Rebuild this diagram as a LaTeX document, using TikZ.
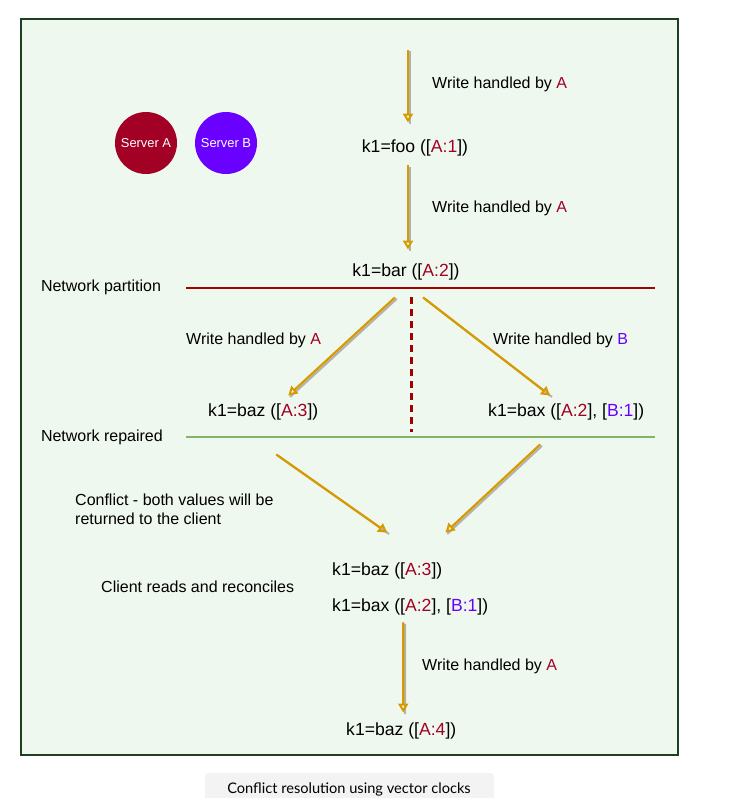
\documentclass[tikz,border=0pt]{standalone}
\usepackage{xcolor}
\usepackage{fontspec}
\setmainfont{Liberation Sans}
\newfontfamily\capfont{Lato}
\usepackage{tikz}
\usetikzlibrary{arrows.meta}

\definecolor{srvA}{HTML}{A20025}
\definecolor{srvB}{HTML}{6A00FF}
\definecolor{flowc}{HTML}{D79B00}
\definecolor{partc}{HTML}{A50000}
\definecolor{repc}{HTML}{82B366}
\definecolor{framec}{HTML}{1E3F20}
\definecolor{bgc}{HTML}{EFF8EE}
\definecolor{capbg}{HTML}{F3F3F3}

\newcommand{\cA}[1]{\textcolor{srvA}{#1}}
\newcommand{\cB}[1]{\textcolor{srvB}{#1}}

\tikzstyle{flow} = [line width=2.2pt,draw=flowc,-{Triangle[open,length=9pt,width=10pt,line width=2pt]},
	preaction={draw=black!30,line width=2pt,-,transform canvas={shift={(1.8pt,-1.4pt)}}}]
\tikzstyle{lbl} = [anchor=west,inner sep=0pt,font=\fontsize{16}{19}\selectfont]
\tikzstyle{val} = [inner sep=3pt,font=\fontsize{17.6}{20}\selectfont]
\tikzstyle{server} = [circle,minimum size=62pt,inner sep=0pt,text=white,font=\fontsize{12.9}{15}\selectfont]

\begin{document}
\begin{tikzpicture}[x=1pt,y=-1pt]
	% Page size and the green frame round the whole drawing
	\useasboundingbox (0,0) rectangle (732,798);
	\draw [draw=framec,fill=bgc,line width=1.2pt] (21,19) rectangle (678,755);
	
	% The two servers:
	\node [server,fill=srvA] (sa) at (146,143) {Server A};
	\node [server,fill=srvB] (sb) at (226,143) {Server B};
	
	% Partition and repair lines, with their labels on the left
	\begin{scope}[line width=2pt]
		\coordinate (p1) at (186,288);
		\coordinate (p2) at (655,288);
		\coordinate (r1) at (186,437);
		\coordinate (r2) at (655,437);
		\draw [partc] (p1) -- (p2);
		\draw [repc] (r1) -- (r2);
		\node [lbl] (npart) at (40,287) {Network partition};
		\node [lbl] (nrep)  at (40,437) {Network repaired};
		% The dashed wall between both sides:
		\coordinate (d1) at (411,297);
		\coordinate (d2) at (411,432);
		\draw [partc,line width=3pt,dash pattern=on 7pt off 5pt] (d1) -- (d2);
	\end{scope}
	
	% Values with their vector clocks
	\node [val] (foo)  at (415,148) {k1=foo ([\cA{A:1}])};
	\node [val] (bar)  at (406,272) {k1=bar ([\cA{A:2}])};
	\node [val,anchor=west,inner sep=0pt] (baz)  at (208,412) {k1=baz ([\cA{A:3}])};
	\node [val,anchor=west,inner sep=0pt] (bax)  at (488,412) {k1=bax ([\cA{A:2}], [\cB{B:1}])};
	\node [val,anchor=west,inner sep=0pt] (rbaz) at (332,571) {k1=baz ([\cA{A:3}])};
	\node [val,anchor=west,inner sep=0pt] (rbax) at (332,607) {k1=bax ([\cA{A:2}], [\cB{B:1}])};
	\node [val,anchor=west,inner sep=0pt] (fin)  at (346,731) {k1=baz ([\cA{A:4}])};
	
	% Labels next to the arrows
	\node [lbl] (w1) at (432,84)  {Write handled by \cA{A}};
	\node [lbl] (w2) at (432,208) {Write handled by \cA{A}};
	\node [lbl] (w3) at (186,340) {Write handled by \cA{A}};
	\node [lbl] (w4) at (493,340) {Write handled by \cB{B}};
	\node [lbl,align=left] (conf) at (75,509) {Conflict - both values will be\\returned to the client};
	\node [lbl] (read) at (101,587) {Client reads and reconciles};
	\node [lbl] (w5) at (422,666) {Write handled by \cA{A}};
	
	% Arrows:
	\coordinate (top) at (408,50);
	\draw [flow] (top) -- ([xshift=-7pt,yshift=14pt]foo.north);
	\draw [flow] ([xshift=-7pt,yshift=-6pt]foo.south) -- ([xshift=2pt,yshift=11pt]bar.north);
	\draw [flow] ([xshift=-11pt,yshift=-14pt]bar.south) -- ([xshift=25pt,yshift=8pt]baz.north);
	\draw [flow] ([xshift=17pt,yshift=-14pt]bar.south) -- ([xshift=-16pt,yshift=8pt]bax.north);
	\draw [flow] ([xshift=13pt,yshift=-34pt]baz.south) -- ([xshift=0pt,yshift=30pt]rbaz.north);
	\draw [flow] ([xshift=-26pt,yshift=-24pt]bax.south) -- ([xshift=3pt,yshift=30pt]rbaz.north east);
	\draw [flow] ([xshift=-7pt,yshift=-7pt]rbax.south) -- ([xshift=2pt,yshift=10pt]fin.north);
	
	% Caption under the frame
	\fill [capbg,rounded corners=4pt] (205,773) rectangle (494,806);
	\node [font=\capfont\fontsize{14.6}{17}\selectfont] (cap) at (349,789) {Conflict resolution using vector clocks};
\end{tikzpicture}
\end{document}
